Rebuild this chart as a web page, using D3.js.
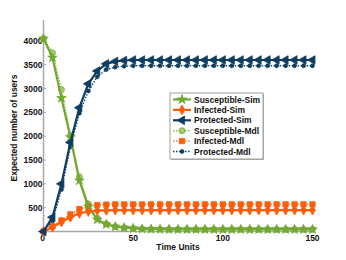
<!DOCTYPE html>
<html>
<head>
<meta charset="utf-8">
<script src="https://cdn.jsdelivr.net/npm/d3@7"></script>
<style>
body { margin:0; background:#fff; }
text { font-family: "Liberation Sans", Arial, sans-serif; font-weight:bold; fill:#111; }
</style>
</head>
<body>
<div id="chart"></div>
<script>
var times   = [0,5,10,15,20,25,30,35,40,45,50,55,60,65,70,75,80,85,90,95,100,105,110,115,120,125,130,135,140,145,150];

var susSim  = [4050,3650,2800,1980,1070,520,250,150,100,80,65,55,50,48,46,45,45,45,45,45,45,45,45,45,45,45,45,45,45,45,45];
var infSim  = [0,90,200,300,380,420,440,445,450,450,450,450,450,450,450,450,450,450,450,450,450,450,450,450,450,450,450,450,450,450,450];
var proSim  = [0,300,1000,1870,2600,3100,3370,3520,3570,3590,3600,3600,3600,3600,3600,3600,3600,3600,3600,3600,3600,3600,3600,3600,3600,3600,3600,3600,3600,3600,3600];
var susMdl  = [4050,3750,2980,2020,1150,580,280,160,105,80,65,55,50,47,45,45,45,45,45,45,45,45,45,45,45,45,45,45,45,45,45];
var infMdl  = [0,110,230,360,470,530,555,565,570,570,570,570,570,570,570,570,570,570,570,570,570,570,570,570,570,570,570,570,570,570,570];
var proMdl  = [0,220,880,1780,2480,2950,3250,3400,3450,3470,3480,3480,3480,3480,3480,3480,3480,3480,3480,3480,3480,3480,3480,3480,3480,3480,3480,3480,3480,3480,3480];

var xTicks  = [0,50,100,150];
var yTicks  = [500,1000,1500,2000,2500,3000,3500,4000];
var names   = ["Susceptible-Sim","Infected-Sim","Protected-Sim","Susceptible-Mdl","Infected-Mdl","Protected-Mdl"];

var green = "#72a832", orange = "#fb5d0a", navy = "#0e3d60";

var width = 346, height = 260;
var svg = d3.select("#chart").append("svg").attr("width", width).attr("height", height);

var x = d3.scaleLinear().domain([0,150]).range([43.5,312.5]);
var y = d3.scaleLinear().domain([0,4440]).range([231.5,20]);

// axes (gray, left & bottom only)
svg.append("line").attr("x1",x(0)).attr("x2",x(150)).attr("y1",y(0)).attr("y2",y(0)).attr("stroke","#a8a8a8").attr("stroke-width",1.5);
svg.append("line").attr("x1",x(0)).attr("x2",x(0)).attr("y1",y(0)).attr("y2",y(4440)).attr("stroke","#a8a8a8").attr("stroke-width",1.5);

svg.selectAll(".xt").data(xTicks).enter().append("line")
   .attr("x1",function(d){return x(d);}).attr("x2",function(d){return x(d);})
   .attr("y1",y(0)).attr("y2",y(0)-2.5).attr("stroke","#a8a8a8");
svg.selectAll(".yt").data(yTicks).enter().append("line")
   .attr("x1",x(0)).attr("x2",x(0)+2.5)
   .attr("y1",function(d){return y(d);}).attr("y2",function(d){return y(d);}).attr("stroke","#a8a8a8");

svg.selectAll(".xl").data(xTicks.slice(1)).enter().append("text")
   .attr("x",function(d){return x(d);}).attr("y",241).attr("text-anchor","middle")
   .style("font-size","8.5px").text(function(d){return d;});
svg.append("text").attr("x",42.5).attr("y",241).attr("text-anchor","middle").style("font-size","8.5px").text("0");
svg.selectAll(".yl").data(yTicks).enter().append("text")
   .attr("x",42.5).attr("y",function(d){return y(d)+3;}).attr("text-anchor","end")
   .style("font-size","8.5px").text(function(d){return d;});

svg.append("text").attr("x",178).attr("y",250).attr("text-anchor","middle").style("font-size","8.5px").text("Time Units");
svg.append("text").attr("transform","translate(17,128) rotate(-90)").attr("text-anchor","middle").style("font-size","8.5px").text("Expected number of users");

// symbols
function marker(kind, size) {
    if (kind == "star") return d3.symbol().type(d3.symbolStar).size(size)();
    if (kind == "diamond") return d3.symbol().type(d3.symbolDiamond).size(size)();
    if (kind == "tri") return d3.symbol().type(d3.symbolTriangle).size(size)();
    if (kind == "square") return d3.symbol().type(d3.symbolSquare).size(size)();
    return d3.symbol().type(d3.symbolCircle).size(size)();
}

var series = [
    {vals:susSim, color:green,  fill:green,     w:2.2, dash:null,  sym:"star",    size:28, rot:0},
    {vals:infSim, color:orange, fill:orange,    w:2.2, dash:null,  sym:"diamond", size:28, rot:0},
    {vals:proSim, color:navy,   fill:navy,      w:2.2, dash:null,  sym:"tri",     size:32, rot:-90},
    {vals:susMdl, color:green,  fill:"#a4cf6e", w:1.4, dash:"1.5,1.5", sym:"circle", size:28, rot:0},
    {vals:infMdl, color:orange, fill:orange,    w:1.4, dash:"1.5,1.5", sym:"square", size:28, rot:0},
    {vals:proMdl, color:navy,   fill:navy,      w:1.4, dash:"1.5,1.5", sym:"circle", size:12, rot:0}
];

var line = d3.line().x(function(d,i){return x(times[i]);}).y(function(d){return y(d);});

// draw model (dotted) first, then sim on top
[3,4,5,0,1,2].forEach(function(k){
    var s = series[k];
    var g = svg.append("g");
    g.append("path").attr("d", line(s.vals)).attr("fill","none")
     .attr("stroke", k>2 ? d3.color(s.color).brighter(0.4) : s.color)
     .attr("stroke-width", s.w).attr("stroke-dasharray", s.dash);
    g.selectAll("path.m").data(s.vals).enter().append("path").attr("class","m")
     .attr("d", marker(s.sym, s.size))
     .attr("transform", function(d,i){return "translate("+x(times[i])+","+y(d)+") rotate("+s.rot+")";})
     .attr("fill", s.fill).attr("stroke", s.color).attr("stroke-width", 0.8);
});

// legend
var lg = svg.append("g").attr("transform","translate(170,93)");
lg.append("rect").attr("x",1).attr("y",1).attr("width",93).attr("height",66).attr("fill","#bbb");
lg.append("rect").attr("width",93).attr("height",66).attr("fill","#fff").attr("stroke","#888").attr("stroke-width",0.8);
series.forEach(function(s,i){
    var yy = 6.5 + i*10.4;
    lg.append("line").attr("x1",3).attr("x2",21).attr("y1",yy).attr("y2",yy)
      .attr("stroke", i>2 ? d3.color(s.color).brighter(0.4) : s.color)
      .attr("stroke-width", s.w).attr("stroke-dasharray", s.dash);
    lg.append("path").attr("d", marker(s.sym, s.size))
      .attr("transform","translate(12,"+yy+") rotate("+s.rot+")")
      .attr("fill", s.fill).attr("stroke", s.color).attr("stroke-width",0.8);
    lg.append("text").attr("x",24).attr("y",yy+3).style("font-size","8.5px").text(names[i]);
});
</script>
</body>
</html>
